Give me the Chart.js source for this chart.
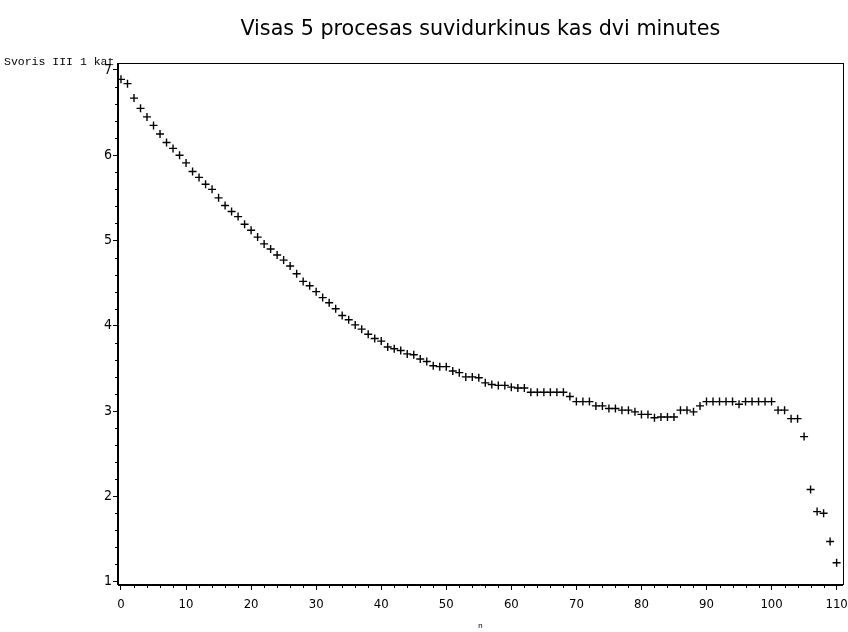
<!DOCTYPE html>
<html>
<head>
<meta charset="utf-8">
<script src="https://cdn.jsdelivr.net/npm/chart.js@4.4.1/dist/chart.umd.min.js"></script>
<style>
  html, body { margin: 0; padding: 0; background: #fff; }
  #wrap { width: 848px; height: 632px; position: relative; }
</style>
</head>
<body>
<div id="wrap"><canvas id="chart"></canvas></div>
<script>
// n = 0..110
const nValues = [];
for (let i = 0; i <= 110; i++) nValues.push(i);

// Svoris III 1 kat
const weightValues = [
  6.89, 6.84, 6.67, 6.55, 6.45, 6.35, 6.25, 6.15, 6.08, 6.00,
  5.91, 5.81, 5.74, 5.66, 5.60, 5.50, 5.41, 5.34, 5.28, 5.19,
  5.12, 5.04, 4.96, 4.90, 4.83, 4.77, 4.70, 4.61, 4.52, 4.47,
  4.40, 4.33, 4.27, 4.20, 4.12, 4.07, 4.01, 3.96, 3.90, 3.85,
  3.82, 3.75, 3.73, 3.71, 3.67, 3.66, 3.61, 3.58, 3.53, 3.52,
  3.52, 3.47, 3.45, 3.40, 3.40, 3.39, 3.33, 3.31, 3.30, 3.30,
  3.28, 3.27, 3.27, 3.22, 3.22, 3.22, 3.22, 3.22, 3.22, 3.17,
  3.11, 3.11, 3.11, 3.06, 3.06, 3.03, 3.03, 3.01, 3.01, 2.99,
  2.96, 2.96, 2.92, 2.93, 2.93, 2.93, 3.01, 3.01, 2.99, 3.06,
  3.11, 3.11, 3.11, 3.11, 3.11, 3.08, 3.11, 3.11, 3.11, 3.11,
  3.11, 3.01, 3.01, 2.91, 2.91, 2.70, 2.08, 1.82, 1.80, 1.47,
  1.22
];

const xTicks = [0, 10, 20, 30, 40, 50, 60, 70, 80, 90, 100, 110];
const yTicks = [1, 2, 3, 4, 5, 6, 7];

const titleText = 'Visas 5 procesas suvidurkinus kas dvi minutes';
const yTitleText = 'Svoris III 1 kat';
const xTitleText = 'n';

const tickFont = "'Liberation Sans Narrow', 'DejaVu Sans Condensed', 'Liberation Sans', sans-serif";

// frame, minor ticks and the free-standing titles
const sasDecor = {
    id: 'sasDecor',
    afterDraw(chart) {
        const ctx = chart.ctx;
        const a = chart.chartArea;
        const xs = chart.scales.x;
        const ys = chart.scales.y;
        ctx.save();
        ctx.strokeStyle = '#000';
        ctx.lineWidth = 1;
        ctx.strokeRect(Math.round(a.left) - 0.5, Math.round(a.top) + 0.5,
            Math.round(a.right - a.left) + 1, Math.round(a.bottom - a.top) - 1);

        // minor ticks
        ctx.beginPath();
        for (let v = 0; v <= 110; v += 2) {
            if (v % 10 === 0) continue;
            const px = Math.round(xs.getPixelForValue(v)) + 0.5;
            ctx.moveTo(px, a.bottom);
            ctx.lineTo(px, a.bottom + 3);
        }
        for (let k = 5; k <= 35; k++) {
            if (k % 5 === 0) continue;
            const py = Math.round(ys.getPixelForValue(k / 5)) + 0.5;
            ctx.moveTo(a.left, py);
            ctx.lineTo(a.left - 3, py);
        }
        ctx.stroke();

        // main title
        ctx.fillStyle = '#000';
        ctx.textAlign = 'center';
        ctx.textBaseline = 'middle';
        ctx.font = "20.7px 'DejaVu Sans', Verdana, sans-serif";
        ctx.fillText(titleText, (a.left + a.right) / 2, 30);

        // y axis title, horizontal at top left
        ctx.textAlign = 'left';
        ctx.textBaseline = 'alphabetic';
        ctx.font = "11.5px 'Liberation Mono', 'DejaVu Sans Mono', monospace";
        ctx.fillText(yTitleText, 4, 65);
        ctx.restore();
    }
};

const ctx = document.getElementById('chart').getContext('2d');
window.weightChart = new Chart(ctx, {
    type: 'scatter',
    data: {
        datasets: [{
            label: yTitleText,
            data: nValues.map((n, i) => ({ x: n, y: weightValues[i] })),
            pointStyle: 'cross',
            pointRadius: 4,
            pointHoverRadius: 4,
            borderColor: '#000',
            backgroundColor: '#000',
            borderWidth: 1.4,
            showLine: false
        }]
    },
    options: {
        responsive: true,
        maintainAspectRatio: false,
        animation: false,
        layout: {
            padding: { top: 63, right: 2, left: 0, bottom: 0 }
        },
        scales: {
            x: {
                type: 'linear',
                min: -0.46,
                max: 110.92,
                afterFit(scale) {
                    scale.height = 47;
                    scale.paddingLeft = 0;
                    scale.paddingRight = 0;
                },
                afterBuildTicks(scale) {
                    scale.ticks = xTicks.map(v => ({ value: v }));
                },
                ticks: {
                    autoSkip: false,
                    maxRotation: 0,
                    padding: 7,
                    color: '#000',
                    font: { family: tickFont, size: 13 }
                },
                title: {
                    display: true,
                    text: xTitleText,
                    color: '#000',
                    padding: { top: 0, bottom: 1 },
                    font: { family: "'Liberation Mono', monospace", size: 8 }
                },
                grid: {
                    drawOnChartArea: false,
                    drawTicks: true,
                    tickLength: 5,
                    tickColor: '#000',
                    color: '#000'
                },
                border: { display: true, color: '#000', width: 1 }
            },
            y: {
                type: 'linear',
                min: 0.959,
                max: 7.082,
                afterFit(scale) {
                    scale.width = 118;
                    scale.paddingTop = 0;
                    scale.paddingBottom = 0;
                },
                afterBuildTicks(scale) {
                    scale.ticks = yTicks.map(v => ({ value: v }));
                },
                ticks: {
                    padding: 1,
                    color: '#000',
                    font: { family: tickFont, size: 14 }
                },
                grid: {
                    drawOnChartArea: false,
                    drawTicks: true,
                    tickLength: 5,
                    tickColor: '#000',
                    color: '#000'
                },
                border: { display: true, color: '#000', width: 1 }
            }
        },
        plugins: {
            legend: { display: false },
            title: { display: false },
            tooltip: { enabled: false }
        }
    },
    plugins: [sasDecor]
});
</script>
</body>
</html>
